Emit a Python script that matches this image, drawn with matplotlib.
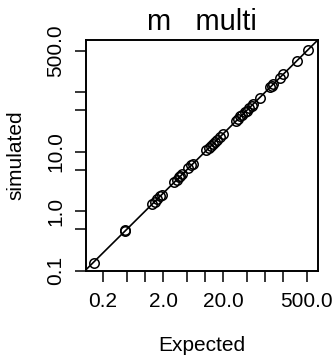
import matplotlib
matplotlib.use("Agg")
import matplotlib.pyplot as plt

plt.rcParams['font.family'] = ['Liberation Sans', 'DejaVu Sans']

expected = [0.14, 0.47, 0.47, 1.3, 1.45, 1.6, 1.75, 1.9, 3.0, 3.4, 3.7, 3.9,
            4.2, 5.3, 5.8, 6.3, 10.5, 11.5, 12.5, 13.5, 14.5, 16.0, 17.5, 20.0,
            33.0, 36.0, 39.0, 42.0, 46.0, 50.0, 55.0, 60.0, 64.0, 83.0, 120.0,
            130.0, 138.0, 180.0, 200.0, 340.0, 520.0]
simulated = [0.135, 0.47, 0.48, 1.32, 1.42, 1.62, 1.78, 1.88, 3.05, 3.35, 3.75,
             3.85, 4.25, 5.25, 5.9, 6.2, 10.6, 11.4, 12.6, 13.4, 14.7, 15.8, 17.7,
             19.8, 33.5, 35.6, 39.4, 41.5, 46.5, 49.5, 55.5, 59.5, 64.5, 82.0,
             121.0, 129.0, 139.0, 178.0, 202.0, 338.0, 525.0]

x_ticks = [0.2, 0.5, 1, 2, 5, 10, 20, 50, 100, 200, 500]
x_labels = ['0.2', '', '', '2.0', '', '', '20.0', '', '', '', '500.0']
y_ticks = [0.1, 0.5, 1, 5, 10, 50, 100, 500]
y_labels = ['0.1', '', '1.0', '', '10.0', '', '', '500.0']

fig = plt.figure(figsize=(3.36, 3.57), dpi=100)
ax = fig.add_axes([0.256, 0.241, 0.690, 0.647])

ax.set_xscale('log')
ax.set_yscale('log')
ax.set_xlim(0.104, 762)
ax.set_ylim(0.099, 762)

ax.plot([0.01, 10000], [0.01, 10000], color='black', lw=1.2)
ax.plot(expected, simulated, 'o', mfc='none', mec='black', ms=6.8, mew=1.1)

ax.set_xticks(x_ticks)
ax.set_xticklabels(x_labels)
ax.set_yticks(y_ticks)
ax.set_yticklabels(y_labels, rotation=90, va='center')
ax.minorticks_off()
ax.tick_params(length=8, width=1.1, labelsize=15, color='black')
ax.tick_params(axis='x', pad=7)
ax.tick_params(axis='y', pad=7)

for s in ax.spines.values():
    s.set_linewidth(1.4)

ax.set_title('m   multi', fontsize=21, pad=7)
ax.set_xlabel('Expected', fontsize=15, labelpad=18)
ax.set_ylabel('simulated', fontsize=15, labelpad=15)

fig.savefig('out.png', dpi=100)
